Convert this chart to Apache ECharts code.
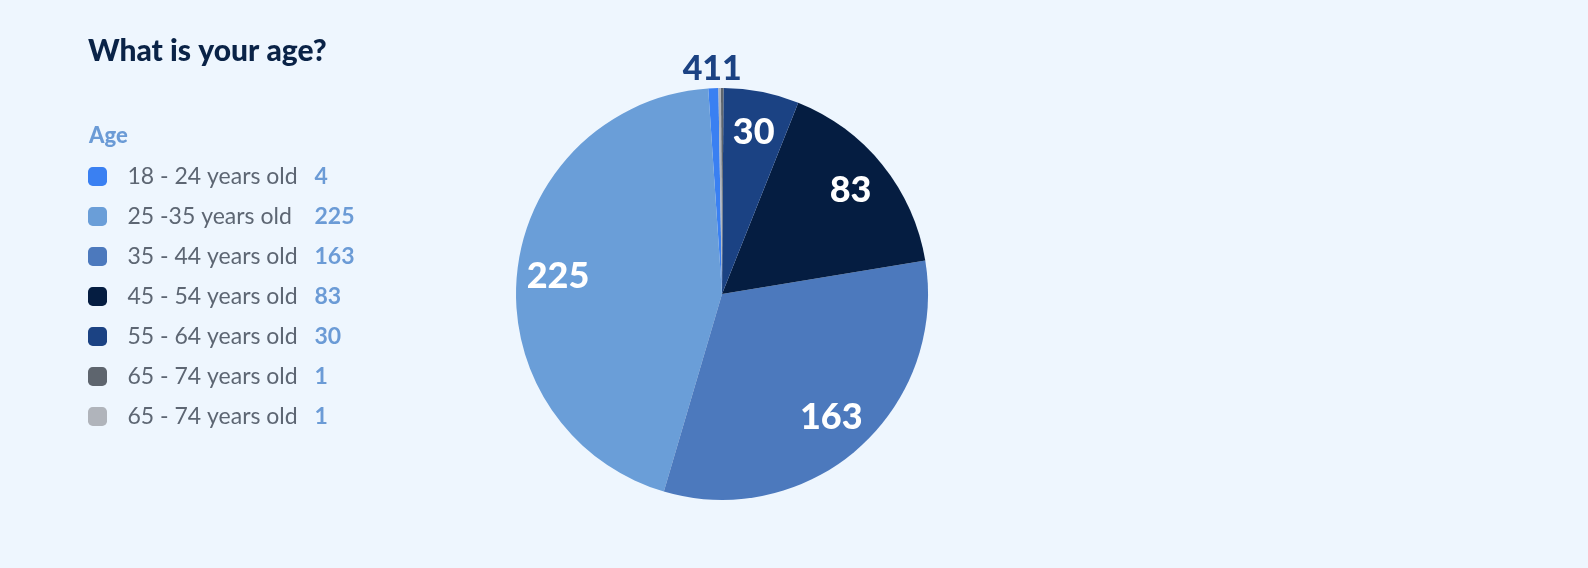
<!DOCTYPE html>
<html>
<head>
<meta charset="utf-8">
<title>What is your age?</title>
<script src="https://cdn.jsdelivr.net/npm/echarts@6/dist/echarts.min.js"></script>
<style>
  html, body { margin: 0; padding: 0; background: #eef6fe; }
  #main { width: 1588px; height: 568px; }
</style>
</head>
<body>
<div id="main"></div>
<script>
// data
var ageGroups = ['18 - 24 years old', '25 -35 years old', '35 - 44 years old', '45 - 54 years old',
                 '55 - 64 years old', '65 - 74 years old', '65 - 74 years old'];
var counts = [4, 225, 163, 83, 30, 1, 1];
var sliceColors = ['#3a80f2', '#6a9ed8', '#4c79bd', '#051d41', '#1b4283', '#5e656e', '#b0b4bb'];

// two groups share one label, so each slice gets its own key for the legend
var keys = ageGroups.map(function (g, i) { return g + '#' + i; });
function keyIndex(name) { return +name.split('#')[1]; }

var FONT = 'Lato, "Noto Sans", sans-serif';
var SMALL = 10; // slices below this get their label above the pie

var myChart = echarts.init(document.getElementById('main'));

var option = {
  backgroundColor: '#eef6fe',
  title: [
    {
      text: 'What is your age?',
      left: 83,
      top: 31,
      textStyle: { fontFamily: FONT, fontSize: 30, fontWeight: 900, color: '#0a2347' }
    },
    {
      text: 'Age',
      left: 84,
      top: 120,
      textStyle: { fontFamily: FONT, fontSize: 22, fontWeight: 900, color: '#6b9bd6' }
    }
  ],
  legend: {
    orient: 'vertical',
    left: 83,
    top: 160,
    itemWidth: 19,
    itemHeight: 19,
    itemGap: 17,
    icon: 'roundRect',
    data: keys,
    formatter: function (name) {
      var i = keyIndex(name);
      return '{g| }{n|' + ageGroups[i] + '}{v|' + counts[i] + '}';
    },
    textStyle: {
      fontFamily: FONT,
      rich: {
        g: { width: 15.5 },
        n: { width: 187, fontFamily: FONT, fontSize: 23, color: '#5d6673' },
        v: { fontFamily: FONT, fontSize: 23, fontWeight: 'bold', color: '#6b9bd6' }
      }
    }
  },
  series: [
    {
      // the coloured pie itself
      type: 'pie',
      center: [722, 294],
      radius: 206,
      startAngle: 91,
      clockwise: false,
      silent: true,
      label: { show: false },
      labelLine: { show: false },
      emphasis: { disabled: true },
      data: keys.map(function (k, i) {
        return { name: k, value: counts[i], itemStyle: { color: sliceColors[i] } };
      })
    },
    {
      // invisible outer ring, only used to place the value labels
      type: 'pie',
      center: [722, 294],
      radius: [118, 206],
      startAngle: 91,
      clockwise: false,
      silent: true,
      avoidLabelOverlap: false,
      emphasis: { disabled: true },
      itemStyle: { color: 'transparent' },
      labelLine: { show: false, length: 19, length2: 0 },
      labelLayout: function (p) {
        if (counts[p.dataIndex] >= SMALL) return {};
        return { align: 'center', dx: -20, moveOverlap: 'shiftX' };
      },
      data: keys.map(function (k, i) {
        var small = counts[i] < SMALL;
        return {
          name: k,
          value: counts[i],
          label: {
            show: true,
            position: small ? 'outside' : 'inside',
            distanceToLabelLine: 0,
            formatter: '{c}',
            fontFamily: FONT,
            fontSize: small ? 34 : 36,
            fontWeight: 900,
            color: small ? '#1b4283' : '#ffffff'
          }
        };
      })
    }
  ]
};

myChart.setOption(option);
</script>
</body>
</html>
